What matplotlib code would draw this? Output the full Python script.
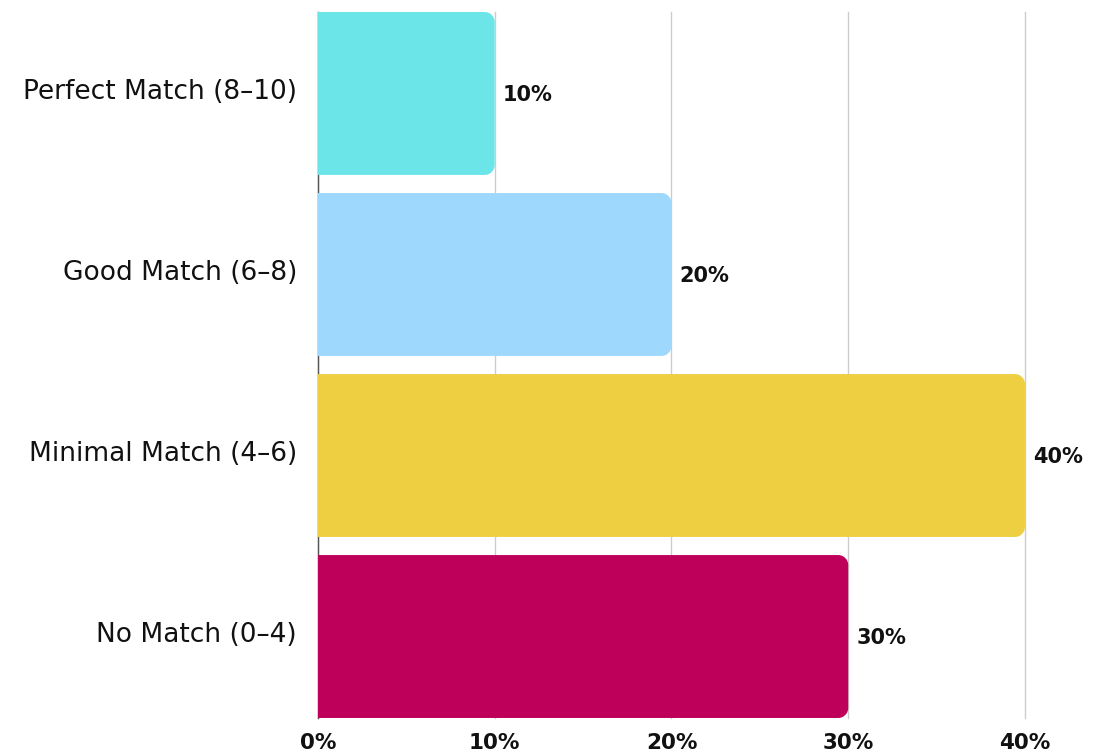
import matplotlib
matplotlib.use("Agg")
import matplotlib.pyplot as plt
import matplotlib.transforms as mtransforms
from matplotlib.path import Path
from matplotlib.patches import PathPatch
from matplotlib.ticker import FuncFormatter

categories = ["Perfect Match (8–10)", "Good Match (6–8)", "Minimal Match (4–6)", "No Match (0–4)"]
values = [10, 20, 40, 30]
colors = ["#6CE5E8", "#9FD8FD", "#EFCF42", "#BE005B"]
xticks = [0, 10, 20, 30, 40]

plt.rcParams['font.family'] = ['DejaVu Sans']

fig = plt.figure(figsize=(10.96, 7.56), dpi=100)
ax = fig.add_axes([0.2901, 0.0503, 0.6451, 0.9338])

ypos = list(range(len(categories)))
bars = ax.barh(ypos, values, height=0.9, color=colors)
ax.set_xlim(0, 40)
ax.set_ylim(3.45, -0.45)

fig.canvas.draw()
r_px = 10
trans = ax.transData
p0 = trans.transform((0, 0))
px = trans.transform((1, 0))[0] - p0[0]
py = abs(trans.transform((0, 1))[1] - p0[1])
rx = r_px / px
ry = r_px / py
k = 0.5523
for i, b in enumerate(bars):
    x0, y0, w, h = b.get_x(), b.get_y(), b.get_width(), b.get_height()
    x1, y1 = x0 + w, y0 + h
    verts = [
        (x0, y0), (x1 - rx, y0),
        (x1 - rx + k * rx, y0), (x1, y0 + ry - k * ry), (x1, y0 + ry),
        (x1, y1 - ry),
        (x1, y1 - ry + k * ry), (x1 - rx + k * rx, y1), (x1 - rx, y1),
        (x0, y1), (x0, y0)
    ]
    codes = [Path.MOVETO, Path.LINETO,
             Path.CURVE4, Path.CURVE4, Path.CURVE4,
             Path.LINETO,
             Path.CURVE4, Path.CURVE4, Path.CURVE4,
             Path.LINETO, Path.CLOSEPOLY]
    patch = PathPatch(Path(verts, codes), facecolor=b.get_facecolor(), edgecolor='none', zorder=2)
    b.set_visible(False)
    ax.add_patch(patch)
    ax.text(x1 + 0.45, y0 + h / 2 + 0.01, f"{values[i]}%", va='center', ha='left',
            fontsize=15, fontweight='bold', color='#111111')

ax.set_xticks(xticks)
ax.xaxis.set_major_formatter(FuncFormatter(lambda v, p: f"{int(v)}%"))
ax.set_yticks(ypos)
ax.set_yticklabels(categories)
ax.tick_params(axis='y', length=0, pad=15, labelsize=19, labelcolor='#111111')
ax.tick_params(axis='x', length=0, pad=11, labelsize=15.5, labelcolor='#111111')
offset = mtransforms.ScaledTranslation(0, 3 / 72, fig.dpi_scale_trans)
for lab in ax.get_yticklabels():
    lab.set_transform(lab.get_transform() + offset)
for lab in ax.get_xticklabels():
    lab.set_fontweight('bold')
ax.grid(axis='x', color='#CCCCCC', linewidth=1, zorder=0)
for gl in ax.get_xgridlines():
    gl.set_clip_on(False)
ax.set_axisbelow(True)
for s in ['top', 'right', 'bottom']:
    ax.spines[s].set_visible(False)
ax.spines['left'].set_color('#555555')
ax.spines['left'].set_linewidth(1)
ax.spines['left'].set_zorder(1)

fig.savefig("out.png", dpi=100)
